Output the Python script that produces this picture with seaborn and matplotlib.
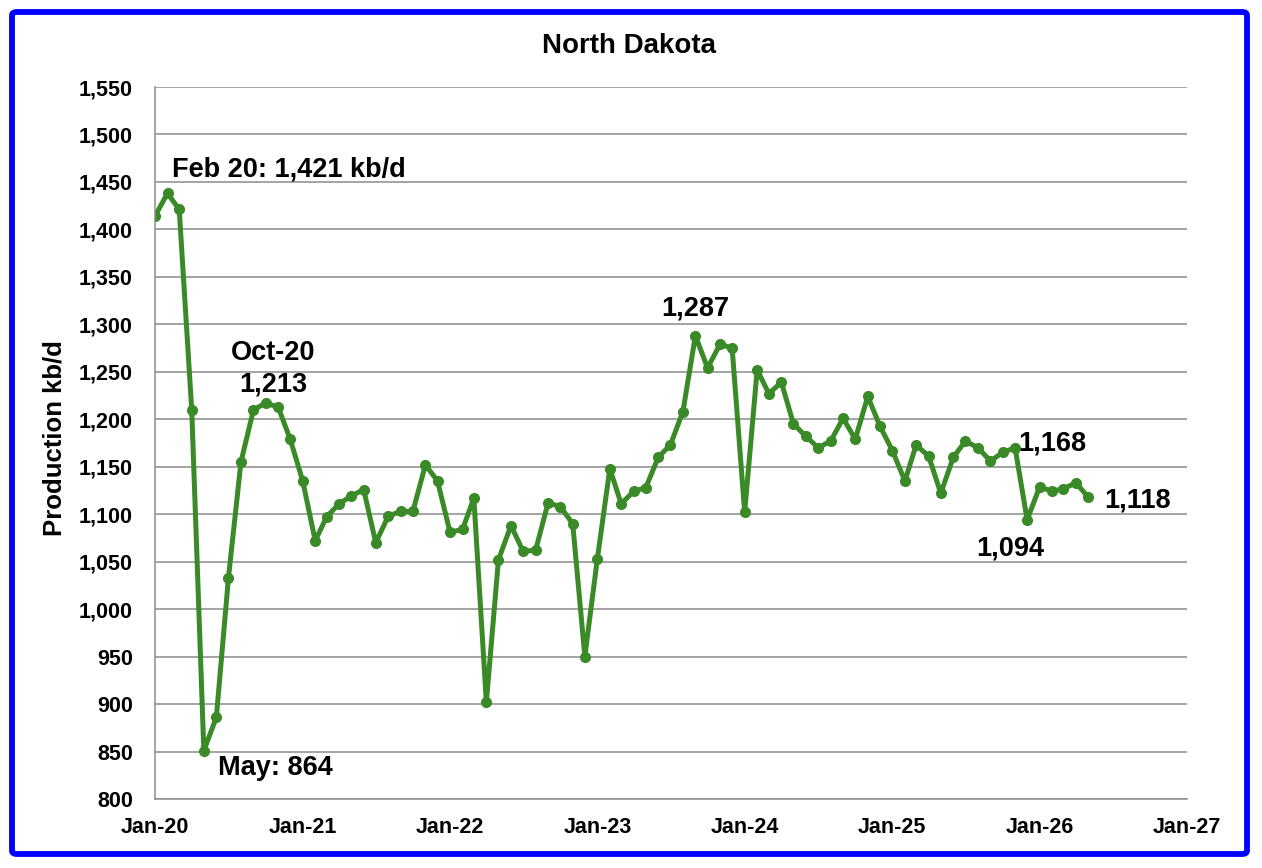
import pandas as pd
import matplotlib
matplotlib.use("Agg")
import matplotlib.pyplot as plt
import matplotlib.dates as mdates
from matplotlib.patches import FancyBboxPatch
import seaborn as sns

# Monthly North Dakota oil production, kb/d (Jan-20 .. May-26)
months = pd.date_range("2020-01-01", "2026-05-01", freq="MS")
production = [
    1414, 1438, 1421, 1210, 851, 886, 1033, 1155, 1210, 1217, 1213, 1179,   # 2020
    1135, 1072, 1097, 1111, 1119, 1126, 1070, 1098, 1103, 1103, 1152, 1135,  # 2021
    1081, 1084, 1117, 902, 1052, 1088, 1061, 1062, 1112, 1108, 1090, 950,    # 2022
    1053, 1148, 1111, 1124, 1128, 1160, 1173, 1208, 1288, 1254, 1279, 1275,  # 2023
    1102, 1252, 1227, 1239, 1195, 1182, 1170, 1177, 1201, 1179, 1224, 1193,  # 2024
    1167, 1135, 1173, 1161, 1122, 1160, 1177, 1170, 1156, 1165, 1170, 1094,  # 2025
    1129, 1124, 1127, 1133, 1118,                                            # 2026
]
data = pd.DataFrame({"Month": months, "Production": production})

# Text labels on the chart
labels = ["Feb 20: 1,421 kb/d", "Oct-20", "1,213", "May: 864",
          "1,287", "1,168", "1,094", "1,118"]

sns.set_style("white")
plt.rcParams["font.family"] = ["Liberation Sans", "DejaVu Sans"]
plt.rcParams["font.weight"] = "bold"
plt.rcParams["text.color"] = "black"
plt.rcParams["axes.labelcolor"] = "black"

green = "#3a8a28"
grey = "#8c8c8c"

fig = plt.figure(figsize=(12.62, 8.68), dpi=100)
ax = fig.add_axes([155 / 1262, 1 - 799 / 868, 1032 / 1262, 712 / 868])

sns.lineplot(data=data, x="Month", y="Production", ax=ax, color=green,
             linewidth=3.6, marker="o", markersize=8, markeredgewidth=0)

ax.set_ylim(800, 1550)
ax.set_yticks(range(800, 1551, 50))
ax.yaxis.set_major_formatter(matplotlib.ticker.FuncFormatter(lambda v, p: f"{int(v):,}"))
ax.set_xlim(pd.Timestamp("2020-01-01"), pd.Timestamp("2027-01-01"))
ax.xaxis.set_major_locator(mdates.YearLocator())
ax.xaxis.set_major_formatter(mdates.DateFormatter("%b-%y"))

ax.grid(axis="y", color=grey, linewidth=1.1)
ax.grid(axis="x", visible=False)
for side in ["top", "right"]:
    ax.spines[side].set_visible(False)
for side in ["left", "bottom"]:
    ax.spines[side].set_color(grey)
    ax.spines[side].set_linewidth(1.1)

ax.tick_params(axis="y", length=0, pad=16, labelsize=15.5, labelcolor="black")
ax.tick_params(axis="x", direction="in", length=7, color=grey, pad=13,
               labelsize=15.5, labelcolor="black")
for t in ax.get_xticklabels() + ax.get_yticklabels():
    t.set_fontweight("bold")

ax.set_xlabel("")
ax.set_ylabel("")
fig.text(55 / 1262, 1 - 438 / 868, "Production kb/d", rotation=90,
         ha="center", va="center", fontsize=18.5, fontweight="bold", color="black")
fig.text(629.5 / 1262, 1 - 46 / 868, "North Dakota", ha="center", va="center",
         fontsize=20, fontweight="bold", color="black")

# Annotations (axes-fraction positions)
ann = dict(fontsize=19.5, fontweight="bold", color="black",
           transform=ax.transAxes, va="center")
ax.text(0.0165, 0.884, labels[0], ha="left", **ann)
ax.text(0.1143, 0.626, labels[1], ha="center", **ann)
ax.text(0.1143, 0.582, labels[2], ha="center", **ann)
ax.text(0.061, 0.043, labels[3], ha="left", **ann)
ax.text(0.524, 0.689, labels[4], ha="center", **ann)
ax.text(0.836, 0.499, labels[5], ha="left", **ann)
ax.text(0.796, 0.352, labels[6], ha="left", **ann)
ax.text(0.9195, 0.419, labels[7], ha="left", **ann)

# Blue frame around the picture
frame = FancyBboxPatch((12 / 1262, 1 - 854 / 868), 1235 / 1262, 842 / 868,
                       boxstyle="round,pad=0,rounding_size=0.004",
                       transform=fig.transFigure, fill=False,
                       edgecolor="#0000ff", linewidth=4.2)
fig.patches.append(frame)

fig.savefig("out.png", dpi=100)
